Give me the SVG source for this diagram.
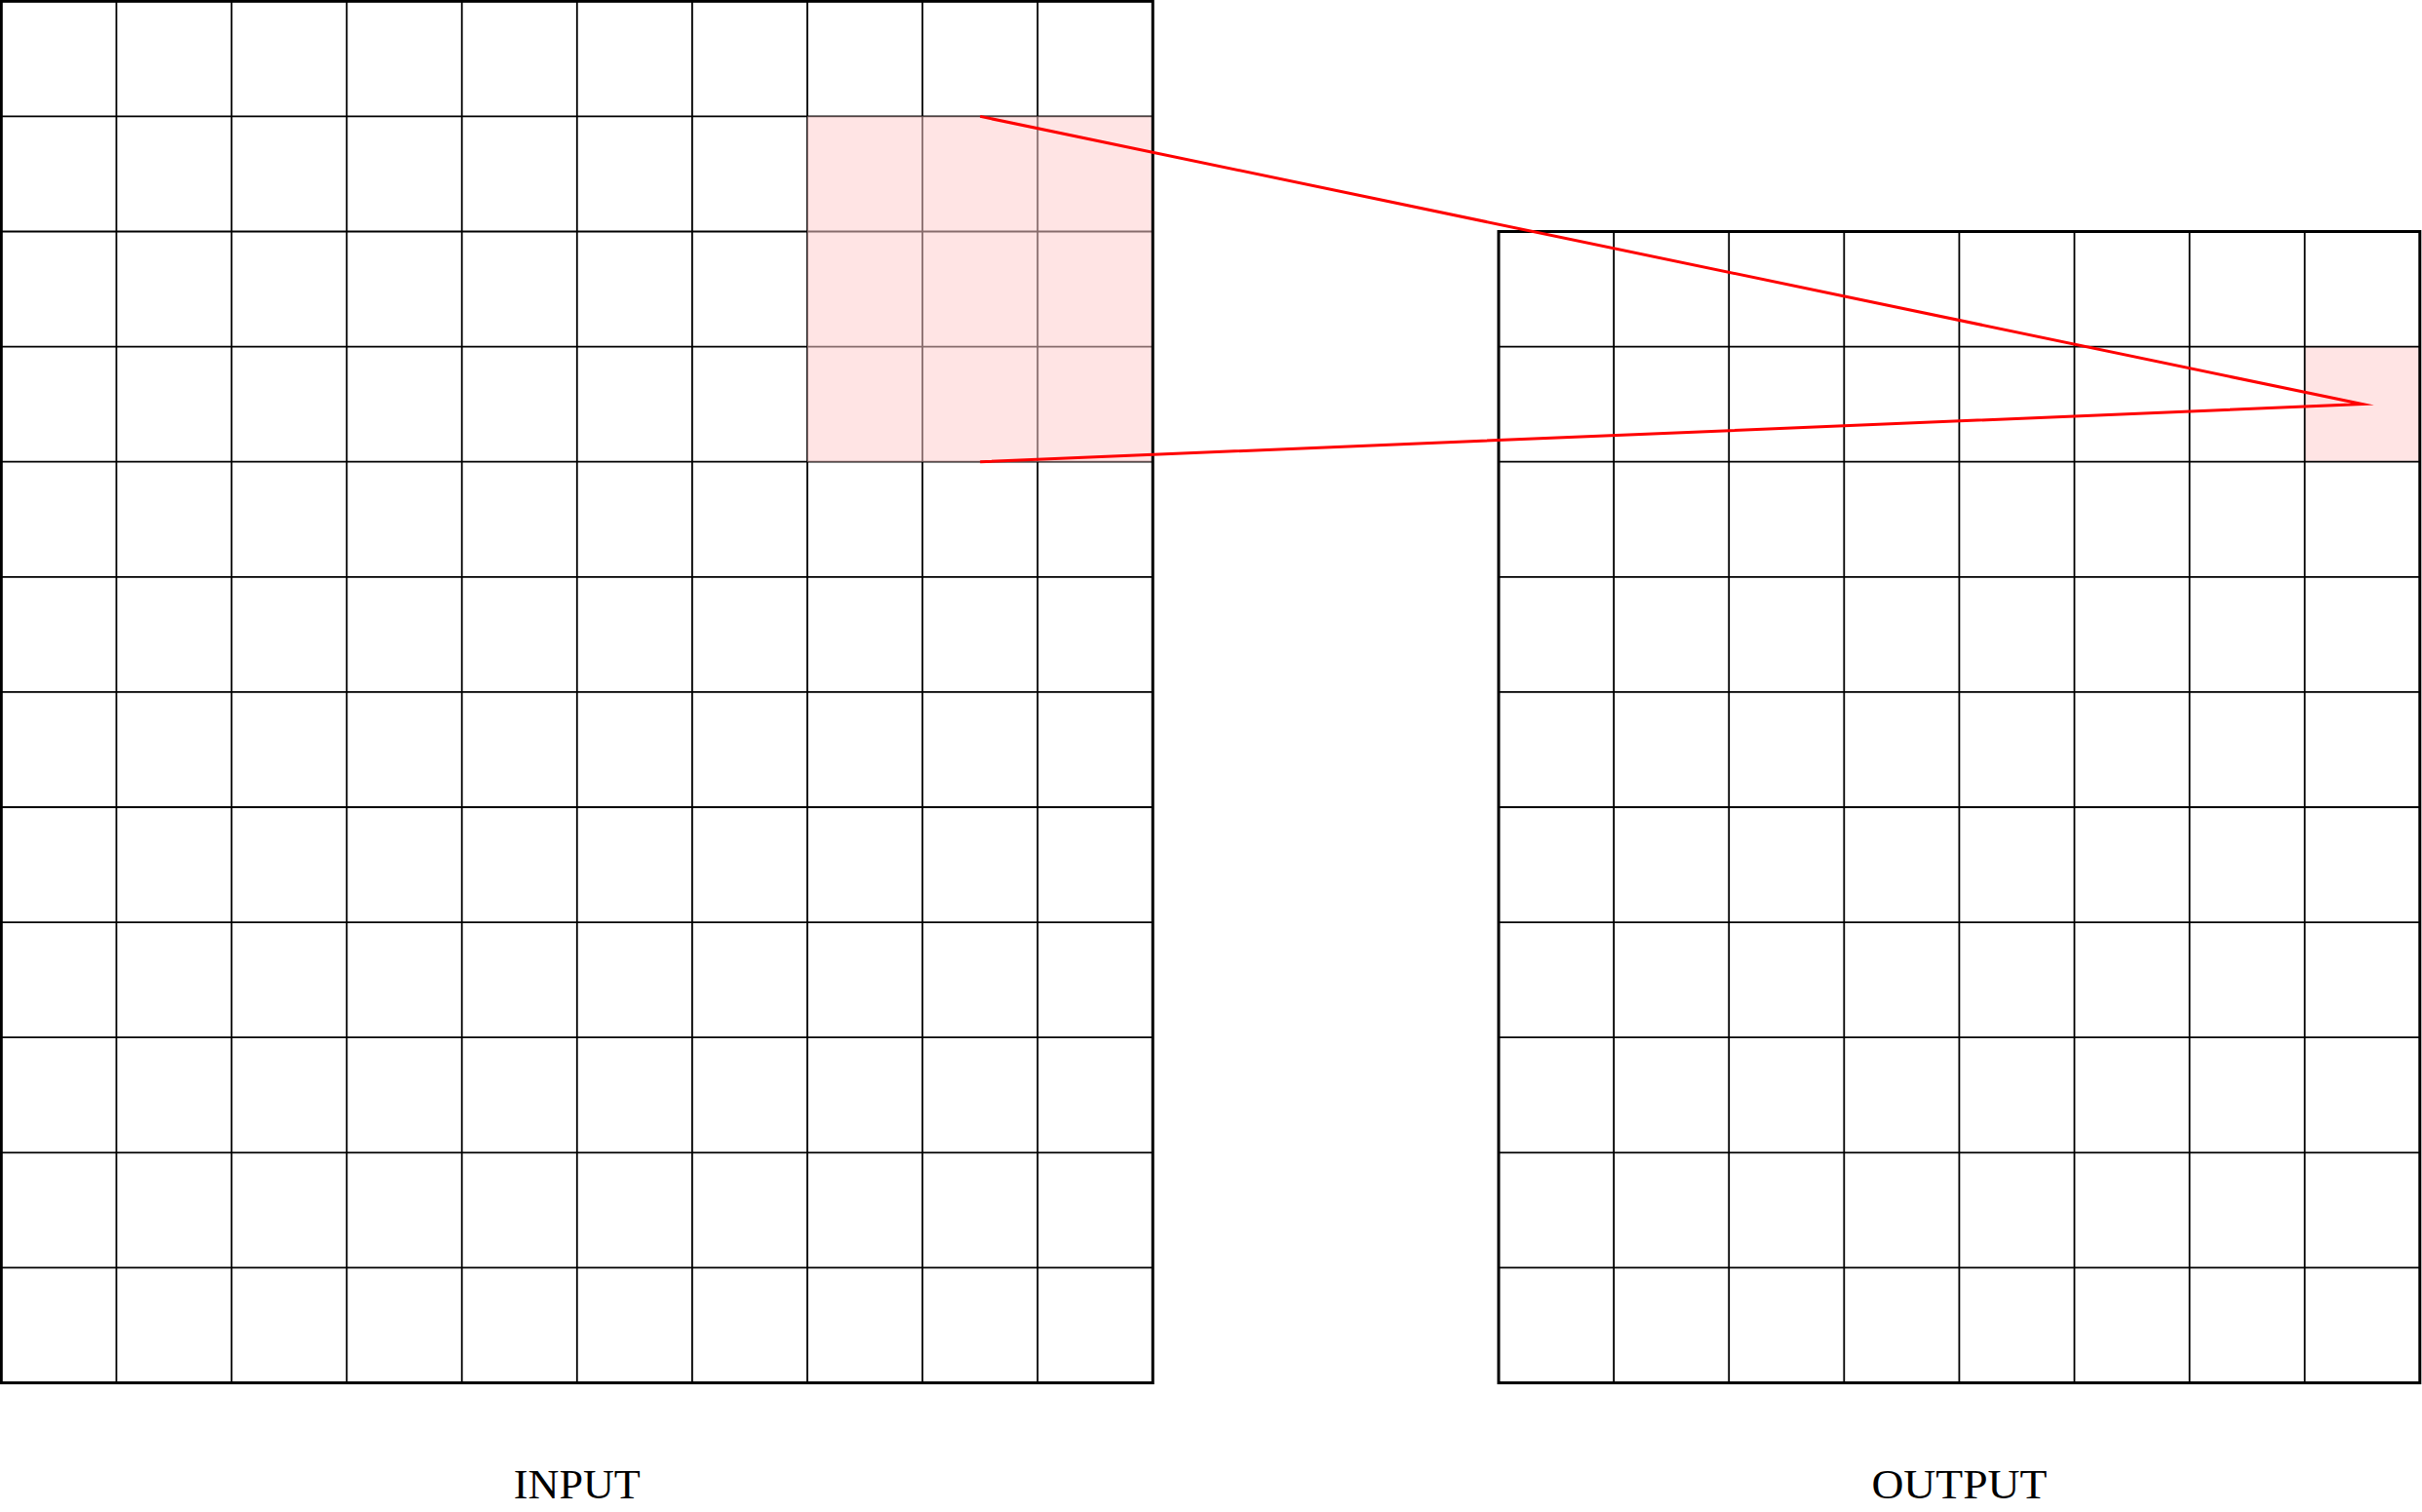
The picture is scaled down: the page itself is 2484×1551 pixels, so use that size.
<svg xmlns="http://www.w3.org/2000/svg" width="2484" height="1551" viewBox="0 0 2484 1551">
<style>
.inner{stroke:#000;stroke-width:1.8;fill:none}
.outer{stroke:#000;stroke-width:3;fill:none}
.hl{fill:#FFCCCC;fill-opacity:0.53;stroke:none}
.conn{stroke:#FF0000;stroke-width:3;fill:none;stroke-linejoin:miter;stroke-miterlimit:10}
.lbl{font-family:"Liberation Serif","DejaVu Serif",serif;font-size:42px;fill:#000;text-anchor:middle}
</style>
<rect x="0" y="0" width="2484" height="1551" fill="#fff"/>
<g id="input">
<path class="inner" d="M119.4 1.3V1418.5M237.5 1.3V1418.5M355.6 1.3V1418.5M473.7 1.3V1418.5M591.8 1.3V1418.5M709.9 1.3V1418.5M828 1.3V1418.5M946.1 1.3V1418.5M1064.2 1.3V1418.5M1.3 119.4H1182.3M1.3 237.5H1182.3M1.3 355.6H1182.3M1.3 473.7H1182.3M1.3 591.8H1182.3M1.3 709.9H1182.3M1.3 828H1182.3M1.3 946.1H1182.3M1.3 1064.2H1182.3M1.3 1182.3H1182.3M1.3 1300.4H1182.3"/>
<rect class="hl" x="828" y="119.4" width="354.3" height="354.3"/>
<rect class="outer" x="1.3" y="1.3" width="1181" height="1417.2"/>
<text class="lbl" x="591.8" y="1537" textLength="130" lengthAdjust="spacingAndGlyphs">INPUT</text>
</g>
<g id="output">
<rect class="hl" x="2363.7" y="355.6" width="118.1" height="118.1"/>
<path class="inner" d="M1655.1 237.5V1418.5M1773.2 237.5V1418.5M1891.3 237.5V1418.5M2009.4 237.5V1418.5M2127.5 237.5V1418.5M2245.6 237.5V1418.5M2363.7 237.5V1418.5M1537 355.6H2481.8M1537 473.7H2481.8M1537 591.8H2481.8M1537 709.9H2481.8M1537 828H2481.8M1537 946.1H2481.8M1537 1064.2H2481.8M1537 1182.3H2481.8M1537 1300.4H2481.8"/>
<rect class="outer" x="1537" y="237.5" width="944.8" height="1181"/>
<text class="lbl" x="2009.4" y="1537" textLength="180" lengthAdjust="spacingAndGlyphs">OUTPUT</text>
</g>
<g id="connectors">
<path class="conn" d="M1005.2 119.4L2422.7 414.6L1005.2 473.7"/>
</g>
</svg>
